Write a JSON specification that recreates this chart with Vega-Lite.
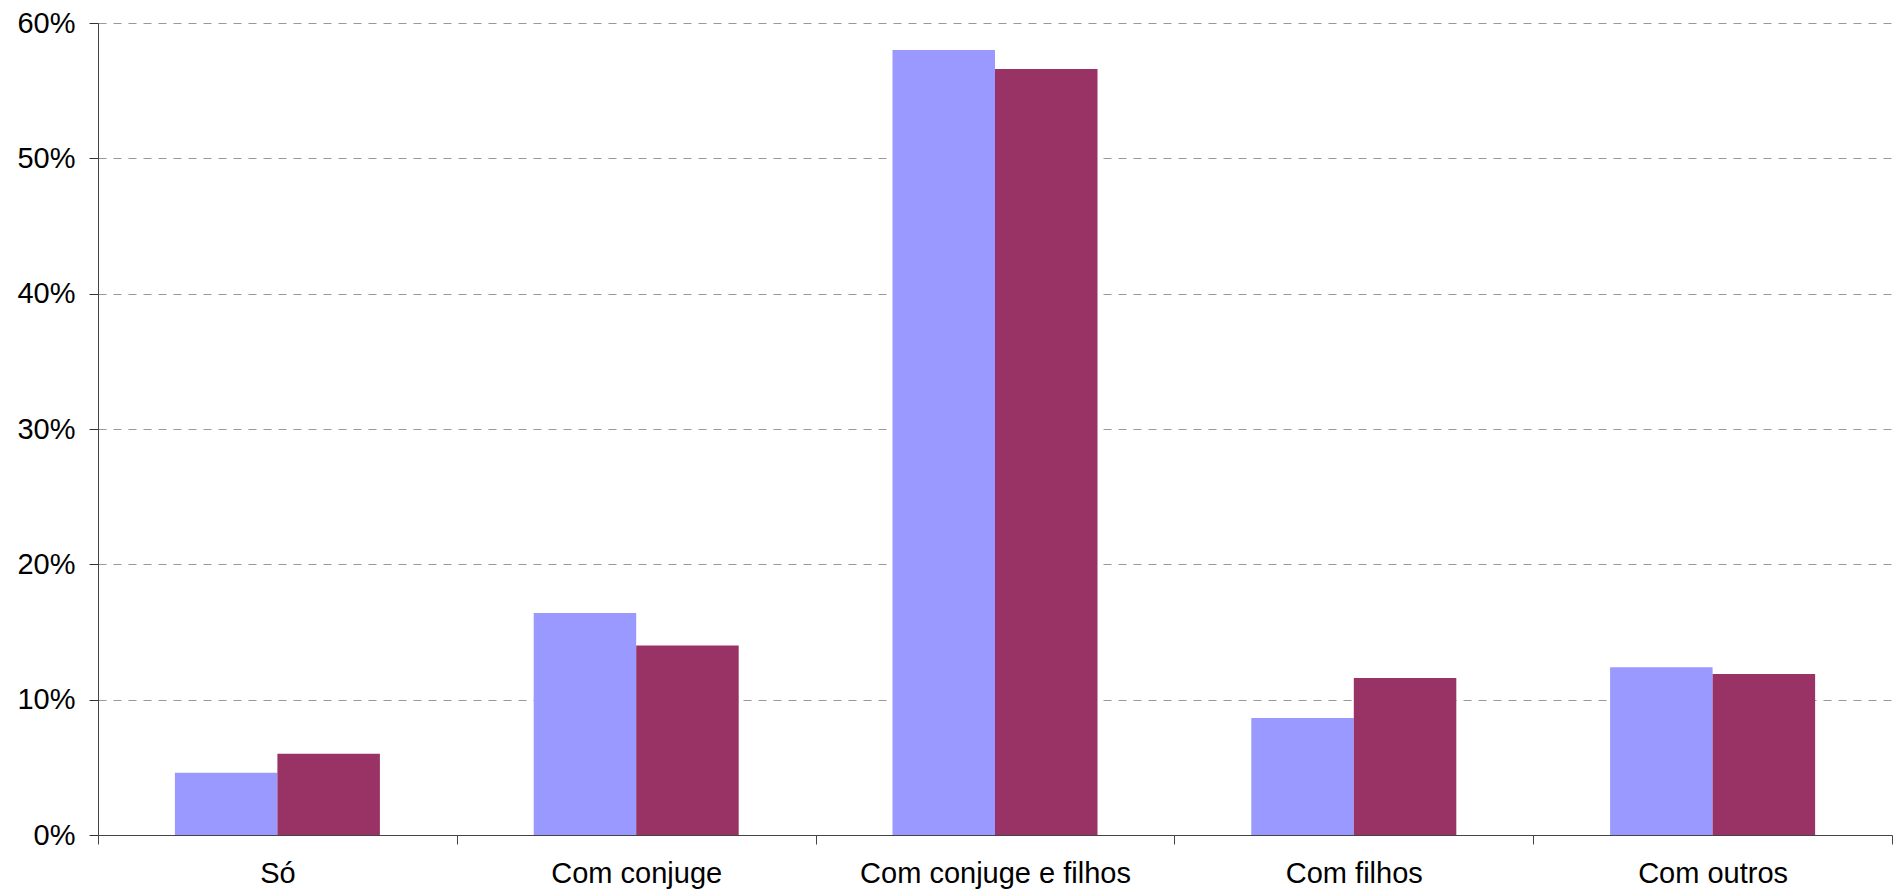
{
  "$schema": "https://vega.github.io/schema/vega-lite/v6.json",
  "width": 1794,
  "height": 812,
  "autosize": {"type": "none"},
  "padding": {"left": 98, "top": 23, "right": 4, "bottom": 61},
  "background": "white",
  "config": {
    "view": {"stroke": null},
    "font": "Liberation Sans"
  },
  "data": {
    "values": [
      {"cat": "Só", "serie": "A", "v": 4.6},
      {"cat": "Só", "serie": "B", "v": 6.0},
      {"cat": "Com conjuge", "serie": "A", "v": 16.4},
      {"cat": "Com conjuge", "serie": "B", "v": 14.0},
      {"cat": "Com conjuge e filhos", "serie": "A", "v": 58.0},
      {"cat": "Com conjuge e filhos", "serie": "B", "v": 56.6},
      {"cat": "Com filhos", "serie": "A", "v": 8.65},
      {"cat": "Com filhos", "serie": "B", "v": 11.6},
      {"cat": "Com outros", "serie": "A", "v": 12.4},
      {"cat": "Com outros", "serie": "B", "v": 11.9}
    ]
  },
  "mark": {"type": "bar"},
  "encoding": {
    "x": {
      "field": "cat",
      "type": "nominal",
      "sort": null,
      "scale": {"paddingInner": 0, "paddingOuter": 0},
      "axis": {
        "title": null,
        "labelAngle": 0,
        "labelFontSize": 29,
        "labelColor": "black",
        "labelPadding": 15,
        "labelLimit": 0,
        "tickBand": "extent",
        "tickSize": 9,
        "tickColor": "#444",
        "domainColor": "#444",
        "grid": false
      }
    },
    "xOffset": {"field": "serie", "type": "nominal", "scale": {"paddingInner": 0, "paddingOuter": 0.75}},
    "y": {
      "field": "v",
      "type": "quantitative",
      "scale": {"domain": [0, 60], "nice": false},
      "axis": {
        "title": null,
        "values": [0, 10, 20, 30, 40, 50, 60],
        "labelExpr": "datum.value + '%'",
        "labelFontSize": 29,
        "labelColor": "black",
        "labelPadding": 14,
        "tickSize": 9,
        "tickColor": "#333",
        "domainColor": "#444",
        "grid": true,
        "gridColor": "#999",
        "gridDash": [8, 7],
        "gridWidth": 1
      }
    },
    "color": {
      "field": "serie",
      "type": "nominal",
      "scale": {"domain": ["A", "B"], "range": ["#9999FF", "#993366"]},
      "legend": null
    }
  }
}
